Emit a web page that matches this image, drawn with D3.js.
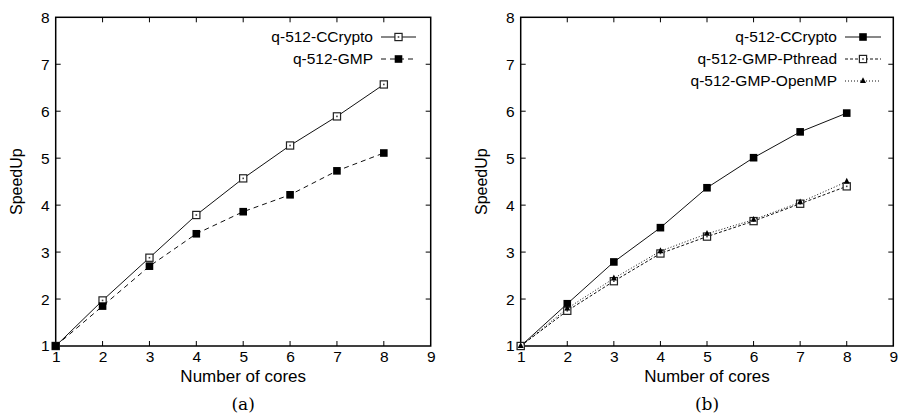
<!DOCTYPE html>
<html><head><meta charset="utf-8">
<script src="https://cdn.jsdelivr.net/npm/d3@7"></script>
<style>body{margin:0;background:#fff}svg{display:block}</style>
</head><body>
<svg id="c" width="900" height="416"></svg>
<script>
const cores = [1,2,3,4,5,6,7,8];
const xTicks = [1,2,3,4,5,6,7,8,9];
const yTicks = [1,2,3,4,5,6,7,8];
const aCCrypto = [1,1.97,2.88,3.79,4.57,5.27,5.89,6.57];
const aGMP = [1,1.85,2.70,3.39,3.86,4.22,4.73,5.11];
const bCCrypto = [1,1.90,2.79,3.52,4.37,5.01,5.56,5.96];
const bPthread = [1,1.75,2.38,2.97,3.33,3.66,4.03,4.40];
const bOpenMP = [1,1.80,2.44,3.02,3.39,3.69,4.06,4.50];

const panels = [
  {x0:55.7, x1:430.7, label:"(a)", legendX:373, legendY:37,
   series:[{name:"q-512-CCrypto", v:aCCrypto, dash:null, marker:"open"},
           {name:"q-512-GMP", v:aGMP, dash:"5,4", marker:"filled"}]},
  {x0:520.7, x1:893.3, label:"(b)", legendX:837, legendY:37,
   series:[{name:"q-512-CCrypto", v:bCCrypto, dash:null, marker:"filled"},
           {name:"q-512-GMP-Pthread", v:bPthread, dash:"3,2", marker:"open"},
           {name:"q-512-GMP-OpenMP", v:bOpenMP, dash:"1,2", marker:"tri"}]}
];
const svg = d3.select("#c");
const font = "Liberation Sans, Arimo, Arial, Helvetica, sans-serif";
const yTop = 17.3, yBot = 346;

function marker(g, type, cx, cy){
  if(type==="filled"){
    g.append("rect").attr("x",cx-3.8).attr("y",cy-3.8).attr("width",7.6).attr("height",7.6).attr("fill","#000");
  } else if(type==="open"){
    g.append("rect").attr("x",cx-3.6).attr("y",cy-3.6).attr("width",7.2).attr("height",7.2)
      .attr("fill","#fff").attr("stroke","#222").attr("stroke-width",1.2);
    g.append("rect").attr("x",cx-0.8).attr("y",cy-0.8).attr("width",1.6).attr("height",1.6).attr("fill","#444");
  } else {
    g.append("path").attr("d",`M${cx},${cy-3.8}L${cx+3},${cy+2}L${cx-3},${cy+2}Z`).attr("fill","#000");
  }
}

panels.forEach(p=>{
  const x = d3.scaleLinear().domain([1,9]).range([p.x0,p.x1]);
  const y = d3.scaleLinear().domain([1,8]).range([yBot,yTop]);
  const g = svg.append("g");
  const tl = 5;
  xTicks.slice(1,-1).forEach(t=>{
    g.append("line").attr("x1",x(t)).attr("x2",x(t)).attr("y1",yBot).attr("y2",yBot-tl).attr("stroke","#000");
    g.append("line").attr("x1",x(t)).attr("x2",x(t)).attr("y1",yTop).attr("y2",yTop+tl).attr("stroke","#000");
  });
  yTicks.slice(1,-1).forEach(t=>{
    g.append("line").attr("x1",p.x0).attr("x2",p.x0+tl).attr("y1",y(t)).attr("y2",y(t)).attr("stroke","#000");
    g.append("line").attr("x1",p.x1).attr("x2",p.x1-tl).attr("y1",y(t)).attr("y2",y(t)).attr("stroke","#000");
  });
  const xa = g.append("g").attr("transform",`translate(0,${yBot})`)
    .call(d3.axisBottom(x).tickValues(xTicks).tickSize(0).tickPadding(5).tickFormat(d3.format("d")));
  xa.select(".domain").remove();
  xa.selectAll("text").attr("font-family",font).attr("font-size",15.5).attr("fill","#000");
  const ya = g.append("g").attr("transform",`translate(${p.x0},0)`)
    .call(d3.axisLeft(y).tickValues(yTicks).tickSize(0).tickPadding(6).tickFormat(d3.format("d")));
  ya.select(".domain").remove();
  ya.selectAll("text").attr("font-family",font).attr("font-size",15.5).attr("fill","#000");
  g.append("rect").attr("x",p.x0).attr("y",yTop).attr("width",p.x1-p.x0).attr("height",yBot-yTop)
    .attr("fill","none").attr("stroke","#000").attr("stroke-width",1.5);
  g.append("text").attr("x",(p.x0+p.x1)/2).attr("y",382).attr("text-anchor","middle")
    .attr("font-family",font).attr("font-size",17).text("Number of cores");
  g.append("text").attr("transform",`translate(${p.x0-34},${(yTop+yBot)/2}) rotate(-90)`)
    .attr("text-anchor","middle").attr("font-family",font).attr("font-size",16).text("SpeedUp");
  g.append("text").attr("x",(p.x0+p.x1)/2).attr("y",410).attr("text-anchor","middle")
    .attr("font-family","DejaVu Serif, serif").attr("font-size",17).text(p.label);
  const line = d3.line().x((d,i)=>x(cores[i])).y(d=>y(d));
  p.series.forEach((s,si)=>{
    g.append("path").datum(s.v).attr("d",line).attr("fill","none").attr("stroke","#111")
      .attr("stroke-width",1).attr("stroke-dasharray",s.dash);
    s.v.forEach((v,i)=>marker(g,s.marker,x(cores[i]),y(v)));
    const ly = p.legendY + si*22;
    g.append("text").attr("x",p.legendX).attr("y",ly).attr("dy","0.35em").attr("text-anchor","end")
      .attr("font-family",font).attr("font-size",15.5).text(s.name);
    const lx0 = p.legendX+8, lx1 = p.legendX+ (p.label==="(a)"?43:44);
    g.append("line").attr("x1",lx0).attr("x2",lx1).attr("y1",ly).attr("y2",ly).attr("stroke","#111")
      .attr("stroke-width",1).attr("stroke-dasharray",s.dash);
    marker(g,s.marker,(lx0+lx1)/2,ly);
  });
});
</script>
</body></html>
